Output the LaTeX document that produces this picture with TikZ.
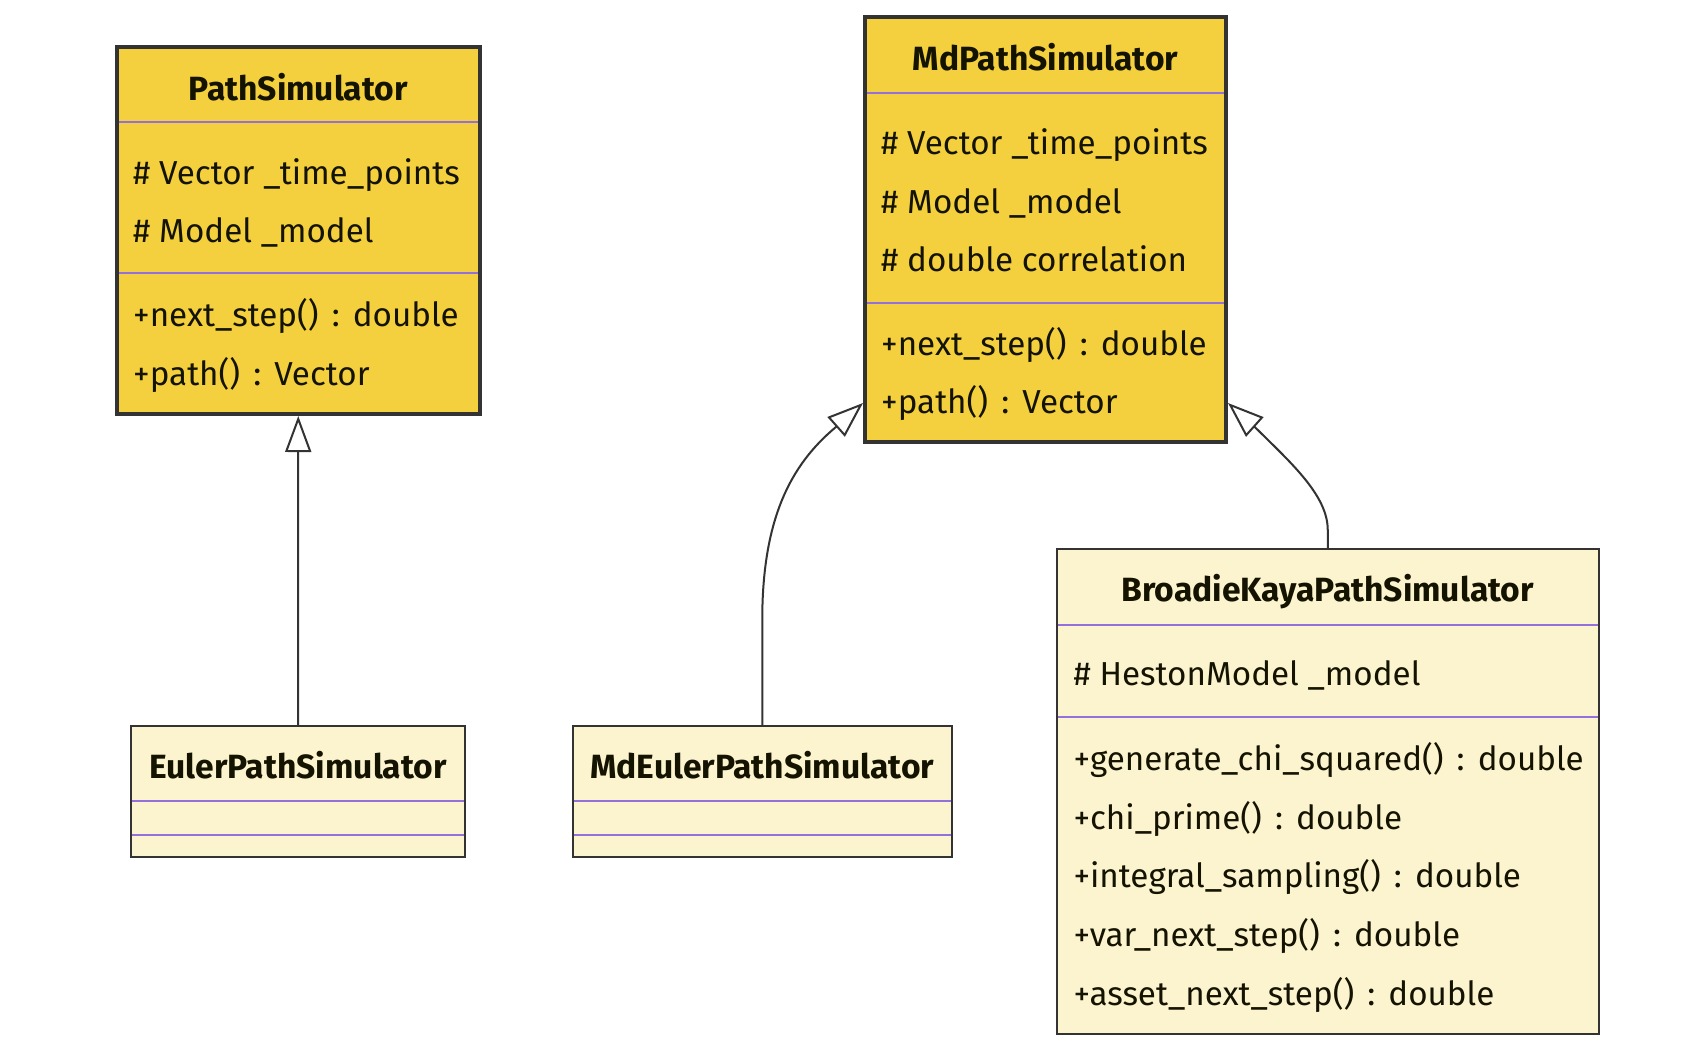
\documentclass[tikz,border=0pt]{standalone}
\usepackage{fontspec}
\setmainfont{Fira Sans}
\usetikzlibrary{arrows.meta,calc}

\definecolor{abstractfill}{HTML}{F4D03F}
\definecolor{concretefill}{HTML}{FCF3CF}
\definecolor{edgegray}{HTML}{333333}
\definecolor{divider}{HTML}{9370DB}
\definecolor{inktext}{HTML}{131300}

% return-type separator with roomier spacing around the colon
\newcommand{\rtsep}{\ \hspace{4.3pt}:\hspace{4.3pt}\ }

\tikzset{
  classbox/.style={draw=edgegray, inner sep=0pt, anchor=center},
  abstractbox/.style={classbox, fill=abstractfill, line width=4pt, outer sep=2pt},
  concretebox/.style={classbox, fill=concretefill, line width=2pt, outer sep=1pt},
  divline/.style={draw=divider, line width=2pt},
  classtitle/.style={font=\fontsize{33.6}{40}\selectfont\bfseries, anchor=base, inner sep=0pt, text=inktext},
  member/.style={font=\fontsize{33.2}{40}\selectfont, anchor=base west, inner sep=0pt, text=inktext},
  inherit/.style={draw=edgegray, line width=2pt,
    -{Triangle[length=36pt, width=26pt, fill=white]}},
}

\begin{document}
\begin{tikzpicture}[x=1pt, y=-1pt]
  \fill[white] (0,0) rectangle (1705,1050);
  \useasboundingbox (0,0) rectangle (1705,1050);

  % ---- PathSimulator ----
  \node[abstractbox, minimum width=362.5pt, minimum height=367pt] (pathsim) at (298.25,230.5) {};
  \draw[divline] (119,122) -- (477.5,122);
  \draw[divline] (119,273) -- (477.5,273);
  \node[classtitle] (pathsim-t) at (298.25,100) {PathSimulator};
  \node[member] (pathsim-a1) at (133,184) {\# Vector \_time\_points};
  \node[member] (pathsim-a2) at (133,242.5) {\# Model \_model};
  \node[member] (pathsim-m1) at (133,326) {+next\_step()\rtsep double};
  \node[member] (pathsim-m2) at (133,385) {+path()\rtsep Vector};

  % ---- MdPathSimulator ----
  \node[abstractbox, minimum width=361pt, minimum height=425pt] (mdpath) at (1045.5,229.5) {};
  \draw[divline] (867,92.5) -- (1224,92.5);
  \draw[divline] (867,302.5) -- (1224,302.5);
  \node[classtitle] (mdpath-t) at (1045.5,70) {MdPathSimulator};
  \node[member] (mdpath-a1) at (881,154) {\# Vector \_time\_points};
  \node[member] (mdpath-a2) at (881,213) {\# Model \_model};
  \node[member] (mdpath-a3) at (881,271.5) {\# double correlation};
  \node[member] (mdpath-m1) at (881,355) {+next\_step()\rtsep double};
  \node[member] (mdpath-m2) at (881,413.5) {+path()\rtsep Vector};

  % ---- EulerPathSimulator ----
  \node[concretebox, minimum width=334pt, minimum height=131pt] (euler) at (298,791.5) {};
  \draw[divline] (132,801) -- (464,801);
  \draw[divline] (132,834.5) -- (464,834.5);
  \node[classtitle] (euler-t) at (298,778) {EulerPathSimulator};

  % ---- MdEulerPathSimulator ----
  \node[concretebox, minimum width=378.5pt, minimum height=131pt] (mdeuler) at (762.25,791.5) {};
  \draw[divline] (574,801) -- (950.5,801);
  \draw[divline] (574,834.5) -- (950.5,834.5);
  \node[classtitle] (mdeuler-t) at (762.25,778) {MdEulerPathSimulator};

  % ---- BroadieKayaPathSimulator ----
  \node[concretebox, minimum width=541.5pt, minimum height=485pt] (broadie) at (1327.75,791.5) {};
  \draw[divline] (1058,624.5) -- (1597.5,624.5);
  \draw[divline] (1058,716.5) -- (1597.5,716.5);
  \node[classtitle] (broadie-t) at (1327.75,601.7) {BroadieKayaPathSimulator};
  \node[member] (broadie-a1) at (1073.3,685.5) {\# HestonModel \_model};
  \node[member] (broadie-m1) at (1073.3,770) {+generate\_chi\_squared()\rtsep double};
  \node[member] (broadie-m2) at (1073.3,829) {+chi\_prime()\rtsep double};
  \node[member] (broadie-m3) at (1073.3,887.5) {+integral\_sampling()\rtsep double};
  \node[member] (broadie-m4) at (1073.3,946) {+var\_next\_step()\rtsep double};
  \node[member] (broadie-m5) at (1073.3,1005) {+asset\_next\_step()\rtsep double};

  % ---- inheritance arrows ----
  \coordinate (mdinL) at ([yshift=41pt]mdpath.south west);
  \coordinate (mdinR) at ([yshift=41pt]mdpath.south east);

  \draw[inherit] (euler.north) -- (pathsim.south);
  \draw[inherit] (mdeuler.north) -- ++(0,-105)
    .. controls +(0,-100) and (790,465) .. (836.3,426.7) -- (mdinL);
  \draw[inherit] (broadie.north) -- ++(0,-18)
    .. controls +(0,-35) and (1290,462) .. (1254.5,426.7) -- (mdinR);
\end{tikzpicture}
\end{document}
